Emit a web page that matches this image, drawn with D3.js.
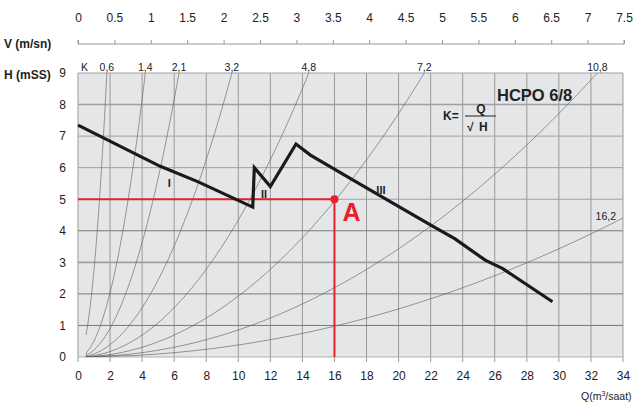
<!DOCTYPE html>
<html><head><meta charset="utf-8">
<script src="https://cdn.jsdelivr.net/npm/d3@7"></script>
<style>body{margin:0;background:#fff}svg{display:block;font-family:"Liberation Sans",Arial,sans-serif}</style>
</head><body><svg id="c" width="635" height="403"></svg>
<script>
// ---- data ----
const qTicks = [0,2,4,6,8,10,12,14,16,18,20,22,24,26,28,30,32,34];
const hTicks = [0,1,2,3,4,5,6,7,8,9];
const vTicks = [0,0.5,1,1.5,2,2.5,3,3.5,4,4.5,5,5.5,6,6.5,7,7.5];
const kValues = [0.6,1.4,2.1,3.2,4.8,7.2,10.8,16.2];
const kLabels = ["0,6","1,4","2,1","3,2","4,8","7,2","10,8","16,2"];
const pumpQ = [0,5.1,7.5,10.9,11.0,12.0,13.6,14.5,17.7,22.2,23.5,25.4,26.5,29.6];
const pumpH = [7.35,6.05,5.55,4.75,6.0,5.4,6.75,6.4,5.45,4.12,3.75,3.07,2.8,1.75];
const dutyQ = 16, dutyH = 5;
const stageLabels = [{t:"I",q:5.7,h:5.4},{t:"II",q:11.6,h:5.05},{t:"III",q:18.9,h:5.17}];

// ---- scales ----
const svg = d3.select("#c");
const x = d3.scaleLinear().domain([0,34]).range([78,623]);
const y = d3.scaleLinear().domain([0,9]).range([357,73]);
const xv = d3.scaleLinear().domain([0,7.5]).range([78,624]);

// background
svg.append("rect").attr("x",x(0)).attr("y",y(9)).attr("width",x(34)-x(0)).attr("height",y(0)-y(9)).attr("fill","#e5e6e8");
svg.append("clipPath").attr("id","pc").append("rect").attr("x",x(0)).attr("y",y(9)).attr("width",x(34)-x(0)).attr("height",y(0)-y(9));

// grid
svg.append("g").selectAll("line").data(qTicks).join("line")
  .attr("x1",d=>x(d)).attr("x2",d=>x(d)).attr("y1",y(9)).attr("y2",y(0)+5)
  .attr("stroke","#9a9a9a").attr("stroke-width",1);
svg.append("g").selectAll("line").data(hTicks.slice(1)).join("line")
  .attr("x1",x(0)).attr("x2",x(34)).attr("y1",d=>y(d)).attr("y2",d=>y(d))
  .attr("stroke",d=>(d===2||d===4||d===1)?"#7a7a7a":"#a0a0a0").attr("stroke-width",d=>(d===3||d===8)?1.6:1);
svg.append("line").attr("x1",x(0)).attr("x2",x(34)).attr("y1",y(0)).attr("y2",y(0)).attr("stroke","#b0b0b0");

// bottom axis
const xa = svg.append("g").attr("transform",`translate(0,${y(0)})`)
  .call(d3.axisBottom(x).tickValues(qTicks).tickSize(0).tickPadding(14));
xa.select(".domain").remove();
xa.selectAll("text").attr("font-size",12).attr("fill","#222").attr("font-family","Liberation Sans, Arial");
// left axis
const ya = svg.append("g").attr("transform",`translate(${x(0)-8},0)`)
  .call(d3.axisLeft(y).tickValues(hTicks).tickSize(0).tickPadding(4));
ya.select(".domain").remove();
ya.selectAll("text").attr("font-size",12).attr("fill","#222").attr("font-family","Liberation Sans, Arial");

// top V axis
const va = svg.append("g").attr("transform","translate(0,44)")
  .call(d3.axisTop(xv).tickValues(vTicks).tickSize(4).tickPadding(18).tickFormat(d=>String(d)));
va.select(".domain").attr("stroke","#999").attr("d",`M${xv(0)},-4V0H${xv(7.5)}V-4`);
va.selectAll(".tick line").attr("stroke","#999");
va.selectAll("text").attr("font-size",12).attr("fill","#222").attr("font-family","Liberation Sans, Arial");

svg.append("text").attr("x",4).attr("y",48).attr("font-size",12).attr("font-weight","bold").attr("fill","#222").text("V (m/sn)");
svg.append("text").attr("x",4).attr("y",79).attr("font-size",12).attr("font-weight","bold").attr("fill","#222").text("H (mSS)");
svg.append("text").attr("x",581).attr("y",400).attr("font-size",10.5).attr("fill","#222")
  .html('Q(m<tspan font-size="7" dy="-4">3</tspan><tspan dy="4">/saat)</tspan>');

// system curves H = (Q/K)^2
const line = d3.line().x(d=>x(d[0])).y(d=>y(d[1]));
const sysG = svg.append("g").attr("clip-path","url(#pc)");
kValues.forEach((k,i)=>{
  const pts = [];
  d3.range(0,9.0001,0.05).forEach(h=>{ const q=k*Math.sqrt(h); if(q>=0.5) pts.push([q,h]); });
  if(k>0.6) pts.unshift([0.5,0]);
  sysG.append("path").attr("d",line(pts)).attr("fill","none").attr("stroke","#555").attr("stroke-width",0.6);
});
// K labels
svg.append("text").attr("x",81).attr("y",71).attr("font-size",10.5).attr("fill","#222").text("K");
kValues.forEach((k,i)=>{
  if(i<7){
    svg.append("text").attr("x",x(k*3)).attr("y",71).attr("text-anchor","middle").attr("font-size",10.5).attr("fill","#222").text(kLabels[i]);
  } else {
    const hh = Math.pow(34/k,2);
    svg.append("text").attr("x",x(34)-7).attr("y",y(hh)+2).attr("text-anchor","end").attr("font-size",10.5).attr("fill","#222").text(kLabels[i]);
  }
});

// title & formula
svg.append("text").attr("x",497).attr("y",101).attr("font-size",16.5).attr("font-weight","bold").attr("fill","#222").text("HCPO 6/8");
svg.append("text").attr("x",443).attr("y",120).attr("font-size",12).attr("font-weight","bold").attr("fill","#222").text("K=");
svg.append("line").attr("x1",465).attr("x2",496).attr("y1",116).attr("y2",116).attr("stroke","#222").attr("stroke-width",1);
svg.append("text").attr("x",481).attr("y",113).attr("text-anchor","middle").attr("font-size",12).attr("font-weight","bold").attr("fill","#222").text("Q");
svg.append("text").attr("x",467).attr("y",131).attr("font-size",12).attr("font-weight","bold").attr("fill","#222").text("√");
svg.append("text").attr("x",479).attr("y",131).attr("font-size",12).attr("font-weight","bold").attr("fill","#222").text("H");

// red duty lines
svg.append("line").attr("x1",x(0)).attr("x2",x(dutyQ)).attr("y1",y(dutyH)).attr("y2",y(dutyH)).attr("stroke","#e8202a").attr("stroke-width",2);
svg.append("line").attr("x1",x(dutyQ)).attr("x2",x(dutyQ)).attr("y1",y(dutyH)).attr("y2",y(0)).attr("stroke","#e8202a").attr("stroke-width",2);

// pump curve
const pumpPts = pumpQ.map((q,i)=>[q,pumpH[i]]);
svg.append("path").attr("d",line(pumpPts)).attr("fill","none").attr("stroke","#1a1a1a").attr("stroke-width",3.2).attr("stroke-linejoin","miter");

svg.append("circle").attr("cx",x(dutyQ)).attr("cy",y(dutyH)).attr("r",4).attr("fill","#e8202a");
svg.append("text").attr("x",x(dutyQ)+8).attr("y",y(dutyH)+22).attr("font-size",25).attr("font-weight","bold").attr("fill","#e8202a").text("A");

stageLabels.forEach(s=>{
  svg.append("text").attr("x",x(s.q)).attr("y",y(s.h)).attr("text-anchor","middle").attr("font-size",11).attr("font-weight","bold").attr("fill","#222").text(s.t);
});
</script></body></html>
